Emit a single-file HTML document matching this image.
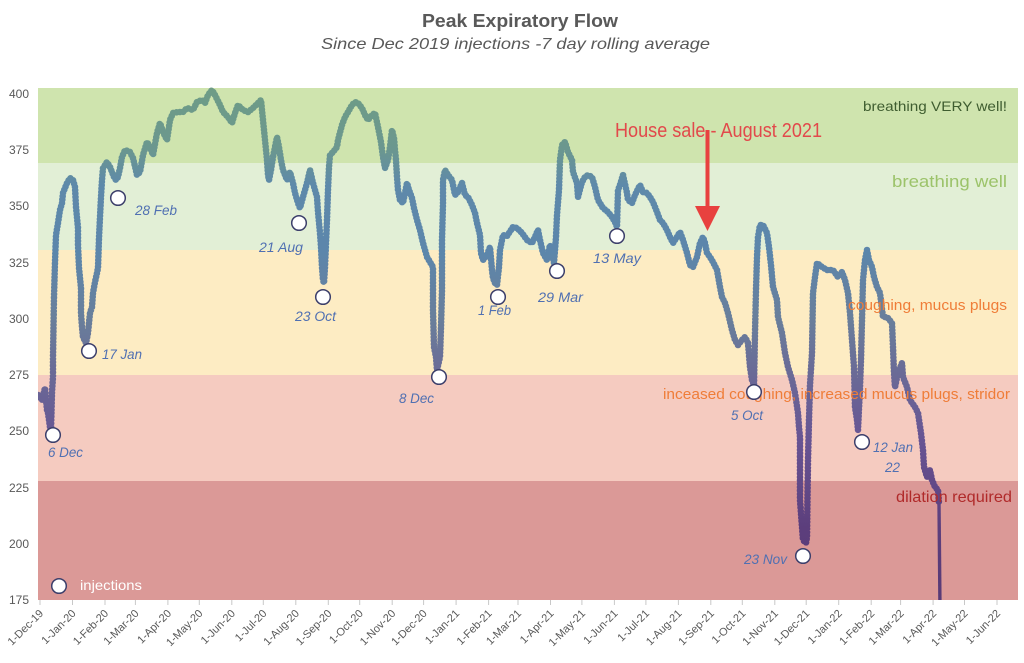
<!DOCTYPE html>
<html><head><meta charset="utf-8"><style>
html,body{margin:0;padding:0;background:#fff;}
svg{display:block;}
</style></head><body>
<svg width="1024" height="663" viewBox="0 0 1024 663" xmlns="http://www.w3.org/2000/svg" xmlns:xlink="http://www.w3.org/1999/xlink" font-family="'Liberation Sans', sans-serif">
<defs>
<linearGradient id="lg" gradientUnits="userSpaceOnUse" x1="0" y1="88" x2="0" y2="600">
<stop offset="0" stop-color="#6e9c86"/>
<stop offset="0.12" stop-color="#6b978f"/>
<stop offset="0.19" stop-color="#5e89aa"/>
<stop offset="0.32" stop-color="#5c86ab"/>
<stop offset="0.45" stop-color="#697f9b"/>
<stop offset="0.57" stop-color="#6a6896"/>
<stop offset="0.69" stop-color="#675493"/>
<stop offset="0.86" stop-color="#5c3e7c"/>
<stop offset="1" stop-color="#583a76"/>
</linearGradient>
<clipPath id="cp"><rect x="38" y="80" width="980" height="520"/></clipPath>
<polyline id="ln" points="38,395 42,400 45,388 47,410 48,413 50,427 51,430 52,392 53,377 53,357 54,297 55,262 56,235 58,223 60,210 62,203 63,193 67,183 70,178 73,180 75,187 76,207 78,228 78,245 79,268 81,288 81,313 82,327 83,337 86,343 88,333 90,313 92,307 93,293 95,282 97,273 98,268 99,238 100,217 101,197 102,180 103,168 107,162 110,167 112,172 114,177 116,180 118,177 120,168 122,157 125,150 130,152 133,158 137,175 140,172 143,155 147,142 150,147 153,155 157,133 160,123 163,132 167,140 170,120 173,113 178,112 183,112 187,108 193,110 197,102 202,100 205,103 208,95 212,90 215,95 220,105 223,112 228,117 232,123 235,113 238,105 243,110 248,112 253,108 258,103 261,100 263,120 265,140 267,160 268,175 269,180 271,170 273,157 275,147 277,137 279,147 281,160 283,170 287,180 290,172 293,183 295,193 298,203 300,208 303,197 307,183 310,170 313,183 317,197 318,212 320,233 321,247 322,267 323,280 324,283 325,267 327,220 328,190 329,167 330,155 333,152 337,147 338,140 342,125 345,117 348,112 352,105 355,102 358,103 362,108 365,115 368,120 372,115 375,113 378,127 381,142 383,157 385,168 388,160 390,147 392,130 394,138 395,150 396,160 397,177 398,190 400,200 403,203 407,183 409,190 412,198 414,208 417,220 420,230 423,243 427,257 430,262 433,267 433,287 433,310 434,347 436,357 437,370 440,357 441,327 442,290 442,240 443,203 443,180 445,170 448,175 452,180 455,195 458,192 462,183 465,195 468,197 472,205 475,213 477,223 480,235 481,253 483,260 487,255 490,247 492,270 493,278 495,283 497,285 499,267 500,250 503,235 507,236 513,227 517,228 522,233 527,240 532,243 535,237 538,230 540,240 543,253 547,260 550,245 552,253 554,263 556,237 557,215 559,190 560,160 562,145 565,142 568,152 572,160 573,172 577,183 578,197 582,182 585,177 588,175 592,177 595,187 598,200 603,208 608,212 612,217 615,222 617,227 618,190 620,185 623,175 627,193 628,200 632,203 635,195 640,185 643,192 647,193 650,197 653,202 657,212 660,220 663,223 667,230 670,237 673,243 677,237 680,232 683,240 687,253 690,265 693,267 697,257 700,243 703,237 705,243 707,253 710,257 713,262 717,270 720,287 722,297 725,303 728,313 732,330 735,340 738,345 742,340 745,337 748,343 750,367 752,380 754,385 755,333 756,290 757,257 758,237 760,225 763,225 767,233 769,247 771,265 773,287 777,300 778,317 782,333 785,353 788,367 792,380 795,393 798,413 799,427 800,437 800,500 802,527 803,540 806,543 807,537 808,460 809,420 810,385 812,353 813,293 815,277 817,263 822,267 827,270 833,270 838,277 842,272 845,280 848,293 850,313 852,340 854,367 855,407 857,420 858,430 860,387 861,360 862,320 863,280 865,260 867,250 869,260 872,267 874,277 877,287 880,293 883,317 887,317 892,323 893,347 894,373 895,387 898,373 902,363 903,377 907,387 910,400 915,407 918,413 921,433 923,450 924,467 927,477 930,470 932,480 935,487 938,490 939,503"/>
</defs>
<rect width="1024" height="663" fill="#fff"/>
<!-- bands -->
<rect x="38" y="88" width="980" height="75" fill="#cfe4ae"/>
<rect x="38" y="163" width="980" height="87" fill="#e2efd6"/>
<rect x="38" y="250" width="980" height="125" fill="#fdecc3"/>
<rect x="38" y="375" width="980" height="106" fill="#f5cbc0"/>
<rect x="38" y="481" width="980" height="119" fill="#db9997"/>

<!-- title -->
<text x="520" y="27" text-anchor="middle" font-size="18" font-weight="bold" fill="#595959" textLength="196" lengthAdjust="spacingAndGlyphs">Peak Expiratory Flow</text>
<text x="515.5" y="49" text-anchor="middle" font-size="16" font-style="italic" fill="#595959" textLength="389" lengthAdjust="spacingAndGlyphs">Since Dec 2019 injections -7 day rolling average</text>

<!-- y axis labels -->
<g font-size="12" fill="#595959" text-anchor="end">
<text x="29" y="98">400</text>
<text x="29" y="154">375</text>
<text x="29" y="210">350</text>
<text x="29" y="267">325</text>
<text x="29" y="323">300</text>
<text x="29" y="379">275</text>
<text x="29" y="435">250</text>
<text x="29" y="492">225</text>
<text x="29" y="548">200</text>
<text x="29" y="604">175</text>
</g>

<!-- x ticks -->
<path stroke="#c8c8c8" stroke-width="1" fill="none" d="M40,600V605M72.5,600V605M105,600V605M135.4,600V605M167.9,600V605M199.3,600V605M231.8,600V605M263.3,600V605M295.8,600V605M328.3,600V605M359.7,600V605M392.2,600V605M423.6,600V605M456.1,600V605M488.6,600V605M518,600V605M550.5,600V605M581.9,600V605M614.4,600V605M645.9,600V605M678.4,600V605M710.8,600V605M742.3,600V605M774.8,600V605M806.2,600V605M838.7,600V605M871.2,600V605M900.6,600V605M933.1,600V605M964.5,600V605M997,600V605"/>
<!-- x labels -->
<g font-size="11" fill="#595959" text-anchor="end">
<text transform="translate(44,614) rotate(-45)">1-Dec-19</text>
<text transform="translate(76.5,614) rotate(-45)">1-Jan-20</text>
<text transform="translate(109,614) rotate(-45)">1-Feb-20</text>
<text transform="translate(139.4,614) rotate(-45)">1-Mar-20</text>
<text transform="translate(171.9,614) rotate(-45)">1-Apr-20</text>
<text transform="translate(203.3,614) rotate(-45)">1-May-20</text>
<text transform="translate(235.8,614) rotate(-45)">1-Jun-20</text>
<text transform="translate(267.3,614) rotate(-45)">1-Jul-20</text>
<text transform="translate(299.8,614) rotate(-45)">1-Aug-20</text>
<text transform="translate(332.3,614) rotate(-45)">1-Sep-20</text>
<text transform="translate(363.7,614) rotate(-45)">1-Oct-20</text>
<text transform="translate(396.2,614) rotate(-45)">1-Nov-20</text>
<text transform="translate(427.6,614) rotate(-45)">1-Dec-20</text>
<text transform="translate(460.1,614) rotate(-45)">1-Jan-21</text>
<text transform="translate(492.6,614) rotate(-45)">1-Feb-21</text>
<text transform="translate(522,614) rotate(-45)">1-Mar-21</text>
<text transform="translate(554.5,614) rotate(-45)">1-Apr-21</text>
<text transform="translate(585.9,614) rotate(-45)">1-May-21</text>
<text transform="translate(618.4,614) rotate(-45)">1-Jun-21</text>
<text transform="translate(649.9,614) rotate(-45)">1-Jul-21</text>
<text transform="translate(682.4,614) rotate(-45)">1-Aug-21</text>
<text transform="translate(714.8,614) rotate(-45)">1-Sep-21</text>
<text transform="translate(746.3,614) rotate(-45)">1-Oct-21</text>
<text transform="translate(778.8,614) rotate(-45)">1-Nov-21</text>
<text transform="translate(810.2,614) rotate(-45)">1-Dec-21</text>
<text transform="translate(842.7,614) rotate(-45)">1-Jan-22</text>
<text transform="translate(875.2,614) rotate(-45)">1-Feb-22</text>
<text transform="translate(904.6,614) rotate(-45)">1-Mar-22</text>
<text transform="translate(937.1,614) rotate(-45)">1-Apr-22</text>
<text transform="translate(968.5,614) rotate(-45)">1-May-22</text>
<text transform="translate(1001,614) rotate(-45)">1-Jun-22</text>
</g>

<!-- data line -->
<g clip-path="url(#cp)" fill="none" stroke="url(#lg)">
<use href="#ln" xlink:href="#ln" stroke-width="3.4" stroke-linejoin="round"/>
<use href="#ln" xlink:href="#ln" stroke-width="6.6" stroke-linecap="round" stroke-dasharray="0 3.4"/>
<line x1="939" y1="503" x2="940" y2="610" stroke-width="3.4"/>
</g>

<!-- band annotations -->
<text x="1007" y="111" text-anchor="end" font-size="14" fill="#3f5d30" textLength="144" lengthAdjust="spacingAndGlyphs">breathing VERY well!</text>
<text x="1007" y="187" text-anchor="end" font-size="17" fill="#9cc36a" textLength="115" lengthAdjust="spacingAndGlyphs">breathing well</text>
<text x="1007" y="310" text-anchor="end" font-size="15" fill="#ef7d38" textLength="159" lengthAdjust="spacingAndGlyphs">coughing, mucus plugs</text>
<text x="1010" y="399" text-anchor="end" font-size="15" fill="#ef7d38" textLength="347" lengthAdjust="spacingAndGlyphs">inceased coughing, increased mucus plugs, stridor</text>
<text x="1012" y="502" text-anchor="end" font-size="16" fill="#b02a2a" textLength="116" lengthAdjust="spacingAndGlyphs">dilation required</text>

<!-- house sale annotation -->
<text x="615" y="137" font-size="20" fill="#e2494b" textLength="207" lengthAdjust="spacingAndGlyphs">House sale - August 2021</text>
<line x1="707.5" y1="130" x2="707.5" y2="208" stroke="#e8413f" stroke-width="4"/>
<polygon points="695,206 720,206 707.5,231" fill="#e8413f"/>

<!-- injection markers -->
<g fill="#fff" stroke="#3c3f6b" stroke-width="1.5">
<circle cx="53" cy="435" r="7.3"/>
<circle cx="89" cy="351" r="7.3"/>
<circle cx="118" cy="198" r="7.3"/>
<circle cx="299" cy="223" r="7.3"/>
<circle cx="323" cy="297" r="7.3"/>
<circle cx="439" cy="377" r="7.3"/>
<circle cx="498" cy="297" r="7.3"/>
<circle cx="557" cy="271" r="7.3"/>
<circle cx="617" cy="236" r="7.3"/>
<circle cx="754" cy="392" r="7.3"/>
<circle cx="803" cy="556" r="7.3"/>
<circle cx="862" cy="442" r="7.3"/>
<circle cx="59" cy="586" r="7.3"/>
</g>
<g font-size="14" font-style="italic" fill="#5070b2">
<text x="48" y="457" textLength="35" lengthAdjust="spacingAndGlyphs">6 Dec</text>
<text x="102" y="359" textLength="40" lengthAdjust="spacingAndGlyphs">17 Jan</text>
<text x="135" y="215" textLength="42" lengthAdjust="spacingAndGlyphs">28 Feb</text>
<text x="259" y="252" textLength="44" lengthAdjust="spacingAndGlyphs">21 Aug</text>
<text x="295" y="321" textLength="41" lengthAdjust="spacingAndGlyphs">23 Oct</text>
<text x="399" y="403" textLength="35" lengthAdjust="spacingAndGlyphs">8 Dec</text>
<text x="478" y="315" textLength="33" lengthAdjust="spacingAndGlyphs">1 Feb</text>
<text x="538" y="302" textLength="45" lengthAdjust="spacingAndGlyphs">29 Mar</text>
<text x="593" y="263" textLength="48" lengthAdjust="spacingAndGlyphs">13 May</text>
<text x="731" y="420" textLength="32" lengthAdjust="spacingAndGlyphs">5 Oct</text>
<text x="744" y="564" textLength="43" lengthAdjust="spacingAndGlyphs">23 Nov</text>
<text x="873" y="452" textLength="40" lengthAdjust="spacingAndGlyphs">12 Jan</text>
<text x="885" y="472" textLength="15" lengthAdjust="spacingAndGlyphs">22</text>
</g>

<!-- legend -->
<text x="80" y="590" font-size="14" fill="#ffffff" textLength="62" lengthAdjust="spacingAndGlyphs">injections</text>
</svg>
</body></html>
